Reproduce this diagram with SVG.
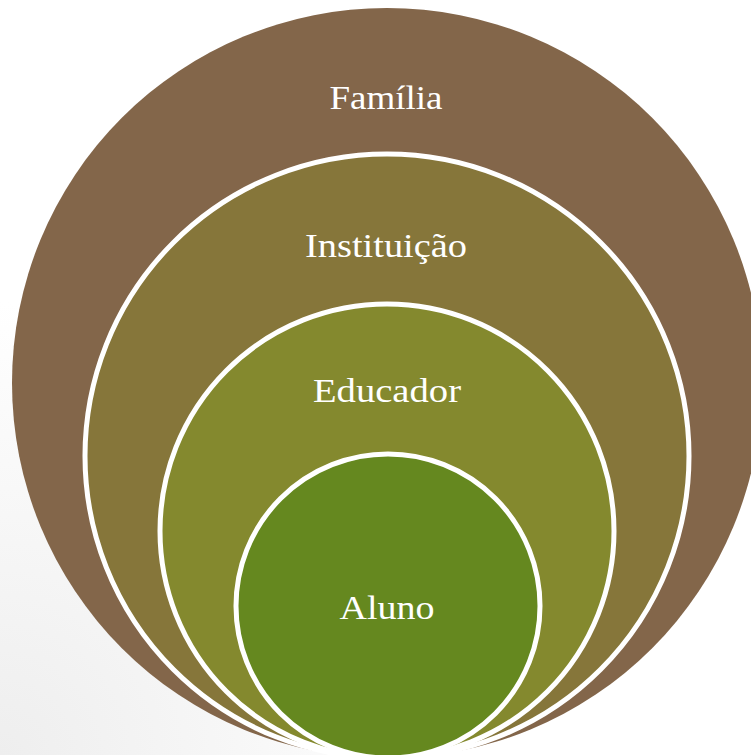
<svg xmlns="http://www.w3.org/2000/svg" width="751" height="755" viewBox="0 0 751 755">
  <defs>
    <radialGradient id="bg" cx="0" cy="1" r="0.6">
      <stop offset="0" stop-color="#eeeeee"/>
      <stop offset="1" stop-color="#ffffff"/>
    </radialGradient>
  </defs>
  <style>
    .ring { stroke: #ffffff; stroke-width: 5; }
    .lbl { font-family: "Liberation Serif", "DejaVu Serif", serif; font-size: 34px; fill: #ffffff; text-anchor: middle; }
  </style>
  <rect width="751" height="755" fill="url(#bg)"/>
  <g id="familia">
    <circle cx="387" cy="383" r="375" fill="#83664a"/>
    <text class="lbl" x="386" y="109" textLength="113" lengthAdjust="spacingAndGlyphs">Família</text>
  </g>
  <g id="instituicao">
    <circle class="ring" cx="387" cy="456" r="302" fill="#86763a"/>
    <text class="lbl" x="386" y="257" textLength="162" lengthAdjust="spacingAndGlyphs">Instituição</text>
  </g>
  <g id="educador">
    <circle class="ring" cx="387" cy="531" r="227" fill="#84892e"/>
    <text class="lbl" x="387" y="402" textLength="148" lengthAdjust="spacingAndGlyphs">Educador</text>
  </g>
  <g id="aluno">
    <circle class="ring" cx="388" cy="606" r="152" fill="#65881f"/>
    <text class="lbl" x="387" y="619" textLength="95" lengthAdjust="spacingAndGlyphs">Aluno</text>
  </g>
  <g id="connectors"/>
</svg>
